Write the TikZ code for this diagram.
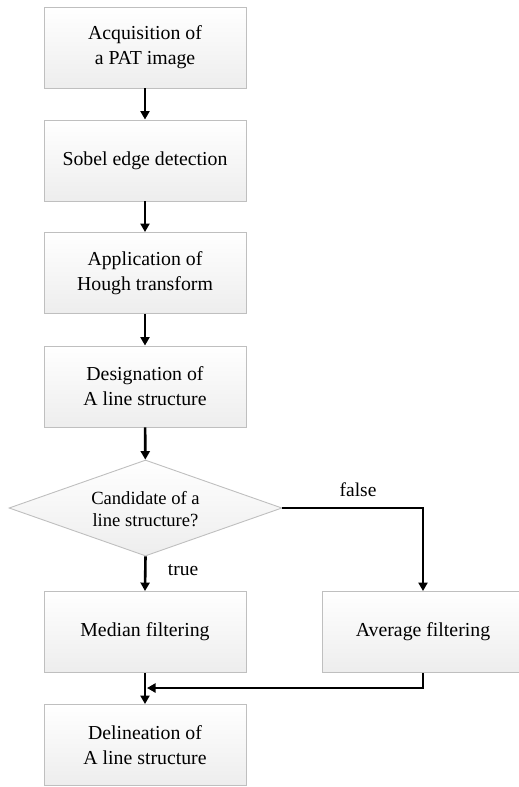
\documentclass[tikz,border=0pt]{standalone}
\usepackage{fontspec}
\setmainfont{Liberation Serif}
\usetikzlibrary{shapes.geometric,arrows.meta}
\begin{document}
\begin{tikzpicture}[x=1pt,y=-1pt,
  procbox/.style={draw=gray!50, line width=0.9pt, top color=white, bottom color=gray!14,
    minimum width=202pt, minimum height=81pt, inner sep=0pt, align=center,
    font=\fontsize{19.8}{25}\selectfont},
  flow/.style={line width=2.6pt, -{Triangle[length=8.5pt,width=9pt]}},
  lbl/.style={font=\fontsize{19.5}{22}\selectfont}]
\useasboundingbox (0,0) rectangle (519,787);
\begin{scope}
\clip (0,0) rectangle (519,787);
\node[procbox] (b1) at (145,47.5) {Acquisition of\\a PAT image};
\node[procbox] (b2) at (145,160.5) {Sobel edge detection};
\node[procbox] (b3) at (145,273) {Application of\\Hough transform};
\node[procbox] (b4) at (145,386.5) {Designation of\\A line structure};
\node[diamond, draw=gray!50, line width=0.9pt, top color=white, bottom color=gray!14,
  minimum width=273pt, minimum height=96pt, inner sep=0pt] (dec) at (145.5,508) {};
\node[align=center, font=\fontsize{18.6}{22}\selectfont] (dectext) at (145.5,509) {Candidate of a\\line structure?};
\node[procbox] (med) at (145,632) {Median filtering};
\node[procbox] (avg) at (423,632) {Average filtering};
\node[procbox] (del) at (145,745) {Delineation of\\A line structure};
\coordinate (turn) at (423,508);
\coordinate (mergeturn) at (423,688);
\coordinate (merge) at (147,688);
\draw[flow] (b1) -- (b2);
\draw[flow] (b2) -- (b3);
\draw[flow] (b3) -- (b4);
\draw[flow] (b4) -- (dec);
\draw[flow] (dec.south) -- (med.north);
\draw[flow] (dec.east) -- (turn) -- (avg.north);
\draw[flow] (med) -- (del);
\draw[flow] (avg.south) -- (mergeturn) -- (merge);
\node[lbl] (tl) at (183,570) {true};
\node[lbl] (fl) at (358,490) {false};
\end{scope}
\end{tikzpicture}
\end{document}
